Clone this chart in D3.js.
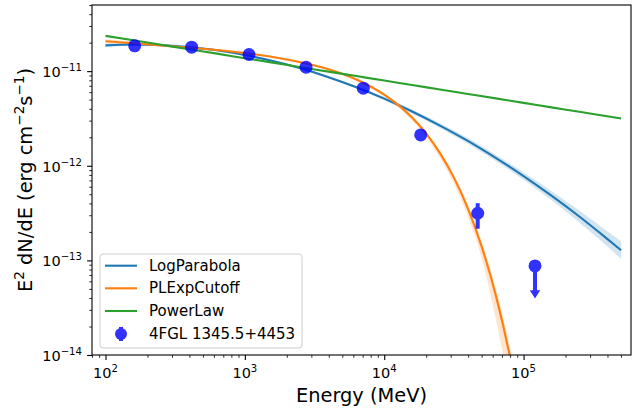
<!DOCTYPE html>
<html>
<head>
<meta charset="utf-8">
<script src="https://cdn.jsdelivr.net/npm/d3@7"></script>
<style>
  body { margin: 0; background: #fff; }
  svg { display: block; }
  text { font-family: "DejaVu Sans", sans-serif; fill: #000; }
</style>
</head>
<body>
<svg id="chart" width="632" height="408"></svg>
<script>
// Spectral points of 4FGL 1345.5+4453 (energy in MeV, E^2 dN/dE in erg cm^-2 s^-1)
const pointEnergy   = [162, 415, 1071, 2747, 7078, 18270, 46860];
const pointFlux     = [1.85e-11, 1.79e-11, 1.50e-11, 1.10e-11, 6.60e-12, 2.12e-12, 3.15e-13];
const pointFluxLow  = [1.77e-11, 1.72e-11, 1.44e-11, 1.05e-11, 6.20e-12, 1.92e-12, 2.16e-13];
const pointFluxHigh = [1.93e-11, 1.86e-11, 1.56e-11, 1.15e-11, 7.00e-12, 2.32e-12, 4.02e-13];

// Upper limit bin
const ulEnergy = [120780];
const ulFlux   = [8.73e-14];

// Model curves sampled in energy
const modelEnergy = [100, 158.5, 251.2, 398.1, 631.0, 1000, 1585, 2512, 3981, 6310,
                     10000, 15849, 25119, 39811, 63096, 100000, 158489, 251189, 398107, 501187];

const logParabola = [1.87e-11, 1.91e-11, 1.88e-11, 1.79e-11, 1.66e-11, 1.48e-11, 1.28e-11, 1.07e-11, 8.63e-12, 6.76e-12,
                     5.12e-12, 3.75e-12, 2.66e-12, 1.83e-12, 1.21e-12, 7.78e-13, 4.83e-13, 2.91e-13, 1.69e-13, 1.28e-13];
const logParabolaHigh = [1.96e-11, 1.98e-11, 1.93e-11, 1.84e-11, 1.71e-11, 1.52e-11, 1.32e-11, 1.10e-11, 8.87e-12, 6.98e-12,
                         5.33e-12, 3.94e-12, 2.82e-12, 1.96e-12, 1.31e-12, 8.53e-13, 5.40e-13, 3.36e-13, 2.03e-13, 1.59e-13];
const logParabolaLow  = [1.79e-11, 1.85e-11, 1.83e-11, 1.74e-11, 1.61e-11, 1.44e-11, 1.25e-11, 1.04e-11, 8.40e-12, 6.54e-12,
                         4.92e-12, 3.57e-12, 2.51e-12, 1.71e-12, 1.12e-12, 7.10e-13, 4.32e-13, 2.52e-13, 1.41e-13, 1.03e-13];

const powerLaw = [2.36e-11, 2.12e-11, 1.90e-11, 1.70e-11, 1.53e-11, 1.37e-11, 1.23e-11, 1.10e-11, 9.89e-12, 8.87e-12,
                  7.96e-12, 7.13e-12, 6.40e-12, 5.74e-12, 5.15e-12, 4.62e-12, 4.14e-12, 3.72e-12, 3.33e-12, 3.16e-12];

const cutoffEnergy = [100, 158.5, 251.2, 398.1, 631.0, 1000, 1585, 2512, 3981, 6310,
                      10000, 12589, 15849, 19953, 25119, 31623, 39811, 50119, 63096, 79433, 100000];
const plExpCutoff = [2.07e-11, 1.97e-11, 1.87e-11, 1.77e-11, 1.67e-11, 1.55e-11, 1.41e-11, 1.24e-11, 1.05e-11, 8.17e-12,
                     5.65e-12, 4.40e-12, 3.23e-12, 2.20e-12, 1.36e-12, 7.49e-13, 3.55e-13, 1.39e-13, 4.32e-14, 9.95e-15, 1.57e-15];
const plExpCutoffHigh = [2.17e-11, 2.04e-11, 1.91e-11, 1.81e-11, 1.71e-11, 1.59e-11, 1.44e-11, 1.27e-11, 1.07e-11, 8.40e-12,
                         5.81e-12, 4.55e-12, 3.36e-12, 2.30e-12, 1.44e-12, 8.03e-13, 3.89e-13, 1.58e-13, 5.14e-14, 1.25e-14, 2.12e-15];
const plExpCutoffLow  = [1.98e-11, 1.90e-11, 1.83e-11, 1.73e-11, 1.63e-11, 1.52e-11, 1.38e-11, 1.21e-11, 1.03e-11, 7.95e-12,
                         5.40e-12, 4.15e-12, 3.00e-12, 2.01e-12, 1.21e-12, 6.45e-13, 2.92e-13, 1.05e-13, 2.43e-14, 4.44e-15, 5.57e-16];

const xMajorTicks = [1e2, 1e3, 1e4, 1e5];
const xMajorExp   = ["2", "3", "4", "5"];
const yMajorTicks = [1e-14, 1e-13, 1e-12, 1e-11];
const yMajorExp   = ["\u221214", "\u221213", "\u221212", "\u221211"];

const legendLabels = ["LogParabola", "PLExpCutoff", "PowerLaw", "4FGL 1345.5+4453"];
const colors = { logParabola: "#1f77b4", plExpCutoff: "#ff7f0e", powerLaw: "#2ca02c", points: "#0000ff" };

// ---- layout ----
const svg = d3.select("#chart");
const plot = { left: 92, right: 631, top: 5, bottom: 355 };

const x = d3.scaleLog().domain([80, 5.9e5]).range([plot.left, plot.right]);
const y = d3.scaleLog().domain([1e-14, 5e-11]).range([plot.bottom, plot.top]);

function minorTicks(scale) {
  const [d0, d1] = scale.domain();
  const out = [];
  for (let k = Math.floor(Math.log10(d0)); k <= Math.ceil(Math.log10(d1)); k++) {
    for (let m = 2; m <= 9; m++) {
      const v = m * Math.pow(10, k);
      if (v >= d0 && v <= d1) out.push(v);
    }
  }
  return out;
}

svg.append("defs").append("clipPath").attr("id", "plotClip")
  .append("rect")
  .attr("x", plot.left).attr("y", plot.top)
  .attr("width", plot.right - plot.left).attr("height", plot.bottom - plot.top);

const g = svg.append("g").attr("clip-path", "url(#plotClip)");

// bands
const band = (energies, lo, hi) => d3.area()
  .x((d, i) => x(energies[i]))
  .y0((d, i) => y(lo[i]))
  .y1((d, i) => y(hi[i]))
  .curve(d3.curveMonotoneX)(energies);

g.append("path").attr("d", band(modelEnergy, logParabolaLow, logParabolaHigh))
  .attr("fill", colors.logParabola).attr("fill-opacity", 0.2);
g.append("path").attr("d", band(cutoffEnergy, plExpCutoffLow, plExpCutoffHigh))
  .attr("fill", colors.plExpCutoff).attr("fill-opacity", 0.2);

// model lines
const line = (energies, vals) => d3.line()
  .x((d, i) => x(energies[i]))
  .y((d, i) => y(vals[i]))
  .curve(d3.curveMonotoneX)(energies);

g.append("path").attr("d", line(modelEnergy, logParabola))
  .attr("fill", "none").attr("stroke", colors.logParabola).attr("stroke-width", 2.1);
g.append("path").attr("d", line(cutoffEnergy, plExpCutoff))
  .attr("fill", "none").attr("stroke", colors.plExpCutoff).attr("stroke-width", 2.1);
g.append("path").attr("d", line(modelEnergy, powerLaw))
  .attr("fill", "none").attr("stroke", colors.powerLaw).attr("stroke-width", 2.1);

// data points with error bars (each point is one translucent group)
const pts = g.append("g");
pointEnergy.forEach((e, i) => {
  const pg = pts.append("g").attr("opacity", 0.8);
  pg.append("line")
    .attr("x1", x(e)).attr("x2", x(e))
    .attr("y1", y(pointFluxLow[i])).attr("y2", y(pointFluxHigh[i]))
    .attr("stroke", colors.points).attr("stroke-width", 4);
  pg.append("circle")
    .attr("cx", x(e)).attr("cy", y(pointFlux[i])).attr("r", 6.5)
    .attr("fill", colors.points);
});

// upper limits: marker, shaft down to half the value, arrow head
ulEnergy.forEach((e, i) => {
  const cx = x(e), cy = y(ulFlux[i]), ey = y(ulFlux[i] * 0.5);
  const pg = pts.append("g").attr("opacity", 0.8);
  pg.append("line")
    .attr("x1", cx).attr("x2", cx).attr("y1", cy).attr("y2", ey - 2)
    .attr("stroke", colors.points).attr("stroke-width", 4);
  pg.append("path")
    .attr("d", `M${cx - 5.2},${ey - 4.3}L${cx + 5.2},${ey - 4.3}L${cx},${ey + 4}Z`)
    .attr("fill", colors.points);
  pg.append("circle")
    .attr("cx", cx).attr("cy", cy).attr("r", 6.5)
    .attr("fill", colors.points);
});

// ---- axes ----
const tickFont = 14.5;

const xAxisMajor = d3.axisBottom(x).tickValues(xMajorTicks).tickSize(4.9).tickFormat(() => "");
const xAxisMinor = d3.axisBottom(x).tickValues(minorTicks(x)).tickSize(2.8).tickFormat(() => "");
const yAxisMajor = d3.axisLeft(y).tickValues(yMajorTicks).tickSize(4.9).tickFormat(() => "");
const yAxisMinor = d3.axisLeft(y).tickValues(minorTicks(y)).tickSize(2.8).tickFormat(() => "");

function styleAxis(sel, w) {
  sel.select(".domain").remove();
  sel.selectAll(".tick line").attr("stroke", "#000").attr("stroke-width", w);
}

svg.append("g").attr("transform", `translate(0,${plot.bottom})`).call(xAxisMinor).call(s => styleAxis(s, 0.8));
svg.append("g").attr("transform", `translate(0,${plot.bottom})`).call(xAxisMajor).call(s => styleAxis(s, 1.1));
svg.append("g").attr("transform", `translate(${plot.left},0)`).call(yAxisMinor).call(s => styleAxis(s, 0.8));
svg.append("g").attr("transform", `translate(${plot.left},0)`).call(yAxisMajor).call(s => styleAxis(s, 1.1));

// tick labels as 10^n
xMajorTicks.forEach((v, i) => {
  const t = svg.append("text")
    .attr("x", x(v)).attr("y", 377.7)
    .attr("text-anchor", "middle")
    .attr("font-size", tickFont);
  t.append("tspan").text("10");
  t.append("tspan").attr("dy", -5.7).attr("font-size", tickFont * 0.7).text(xMajorExp[i]);
});
yMajorTicks.forEach((v, i) => {
  const t = svg.append("text")
    .attr("x", 82).attr("y", y(v) + 5.8)
    .attr("text-anchor", "end")
    .attr("font-size", tickFont);
  t.append("tspan").text("10");
  t.append("tspan").attr("dy", -5.7).attr("font-size", tickFont * 0.7).text(yMajorExp[i]);
});

// frame
svg.append("rect")
  .attr("x", plot.left).attr("y", plot.top)
  .attr("width", plot.right - plot.left).attr("height", plot.bottom - plot.top)
  .attr("fill", "none").attr("stroke", "#000").attr("stroke-width", 1.1);

// axis titles
svg.append("text")
  .attr("x", (plot.left + plot.right) / 2).attr("y", 402)
  .attr("text-anchor", "middle").attr("font-size", 19.4)
  .text("Energy (MeV)");

const yl = svg.append("text")
  .attr("transform", `translate(32,${(plot.top + plot.bottom) / 2}) rotate(-90)`)
  .attr("text-anchor", "middle").attr("font-size", 19.4);
yl.append("tspan").text("E");
yl.append("tspan").attr("dy", -8).attr("font-size", 13.6).text("2");
yl.append("tspan").attr("dy", 8).text(" dN/dE (erg cm");
yl.append("tspan").attr("dy", -8).attr("font-size", 13.6).text("\u22122");
yl.append("tspan").attr("dy", 8).text("s");
yl.append("tspan").attr("dy", -8).attr("font-size", 13.6).text("\u22121");
yl.append("tspan").attr("dy", 8).text(")");

// ---- legend ----
const lg = svg.append("g");
lg.append("rect")
  .attr("x", 100).attr("y", 254).attr("width", 202).attr("height", 94).attr("rx", 3)
  .attr("fill", "#fff").attr("fill-opacity", 0.8)
  .attr("stroke", "#cccccc").attr("stroke-width", 1);

const rowY = [265.7, 288.3, 311, 334];
const lineColors = [colors.logParabola, colors.plExpCutoff, colors.powerLaw];
lineColors.forEach((c, i) => {
  lg.append("line")
    .attr("x1", 105).attr("x2", 137).attr("y1", rowY[i]).attr("y2", rowY[i])
    .attr("stroke", c).attr("stroke-width", 2.1);
});
const lm = lg.append("g").attr("opacity", 0.8);
lm.append("line")
  .attr("x1", 121).attr("x2", 121).attr("y1", rowY[3] - 7).attr("y2", rowY[3] + 7)
  .attr("stroke", colors.points).attr("stroke-width", 4);
lm.append("circle")
  .attr("cx", 121).attr("cy", rowY[3]).attr("r", 6)
  .attr("fill", colors.points);

legendLabels.forEach((label, i) => {
  lg.append("text")
    .attr("x", 149).attr("y", rowY[i])
    .attr("dominant-baseline", "central")
    .attr("font-size", 15)
    .text(label);
});
</script>
</body>
</html>
